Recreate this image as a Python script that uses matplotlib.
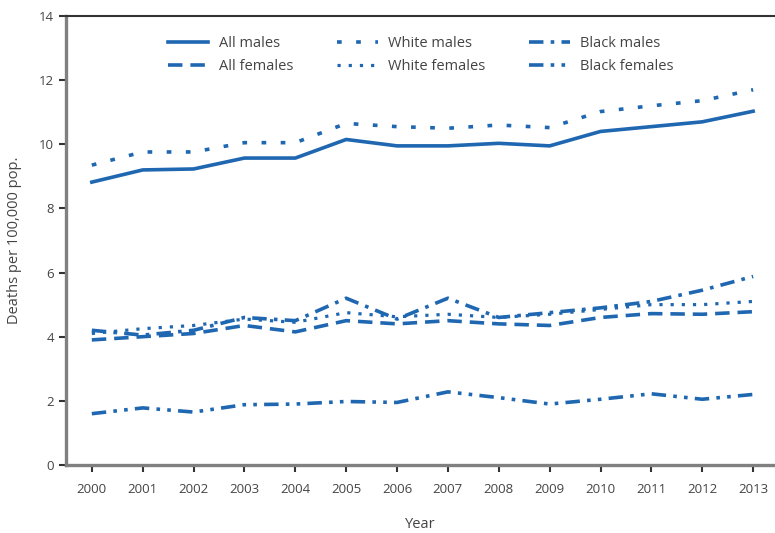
import matplotlib
matplotlib.use("Agg")
import matplotlib.pyplot as plt

years = list(range(2000, 2014))
all_males = [8.82, 9.2, 9.23, 9.57, 9.57, 10.15, 9.95, 9.95, 10.03, 9.95, 10.4, 10.55, 10.7, 11.03]
white_males = [9.35, 9.76, 9.76, 10.05, 10.05, 10.65, 10.55, 10.5, 10.6, 10.52, 11.02, 11.2, 11.36, 11.7]
black_males = [4.2, 4.05, 4.2, 4.6, 4.5, 5.2, 4.55, 5.2, 4.6, 4.75, 4.9, 5.1, 5.45, 5.88]
all_females = [3.9, 4.0, 4.1, 4.35, 4.15, 4.5, 4.4, 4.5, 4.4, 4.35, 4.6, 4.72, 4.7, 4.78]
white_females = [4.1, 4.25, 4.35, 4.55, 4.45, 4.75, 4.62, 4.7, 4.6, 4.7, 4.85, 5.0, 5.0, 5.1]
black_females = [1.6, 1.78, 1.65, 1.88, 1.9, 1.98, 1.95, 2.28, 2.1, 1.9, 2.05, 2.22, 2.05, 2.2]

color = "#1f67b1"
text_color = "#444444"
plt.rcParams['font.family'] = ['Open Sans', 'DejaVu Sans']

fig = plt.figure(figsize=(7.75, 5.33), dpi=100)
ax = fig.add_axes([0.085, 0.1276, 0.915, 0.8424])

ax.plot(years, all_males, color=color, lw=2.6, ls='-', label='All males')
ax.plot(years, all_females, color=color, lw=2.6, ls=(0, (4, 2.2)), label='All females')
ax.plot(years, white_males, color=color, lw=2.6, ls=(0, (1.3, 4)), label='White males')
ax.plot(years, white_females, color=color, lw=2.3, ls=(0, (1, 2.5)), label='White females')
ax.plot(years, black_males, color=color, lw=2.6, ls=(0, (4, 2, 1, 2)), label='Black males')
ax.plot(years, black_females, color=color, lw=2.6, ls=(0, (4, 2, 1, 2, 1, 2)), label='Black females')

ax.set_xlim(1999.49, 2013.43)
ax.set_ylim(0, 14)
ax.set_xticks(years)
ax.set_xticklabels([str(y) for y in years])
ax.set_yticks(range(0, 15, 2))

for s in ['left', 'bottom']:
    ax.spines[s].set_color('#808080')
    ax.spines[s].set_linewidth(2.4)
ax.spines['top'].set_color('#333333')
ax.spines['top'].set_linewidth(1.5)
ax.spines['right'].set_visible(False)

ax.tick_params(axis='both', colors='#333333', labelcolor=text_color, labelsize=9.5,
               direction='out', length=5, width=1.5)
ax.tick_params(axis='x', pad=8)

ax.set_xlabel('Year', fontsize=10.5, color=text_color, labelpad=15)
ax.set_ylabel('Deaths per 100,000 pop.', fontsize=10.5, color=text_color, labelpad=12)

leg = ax.legend(ncol=3, loc='upper center', bbox_to_anchor=(0.5, 0.985), frameon=False,
                fontsize=10.5, handlelength=2.8, columnspacing=3.0, labelspacing=0.55,
                handletextpad=0.7)
for t in leg.get_texts():
    t.set_color(text_color)

fig.savefig('out.png', dpi=100)
